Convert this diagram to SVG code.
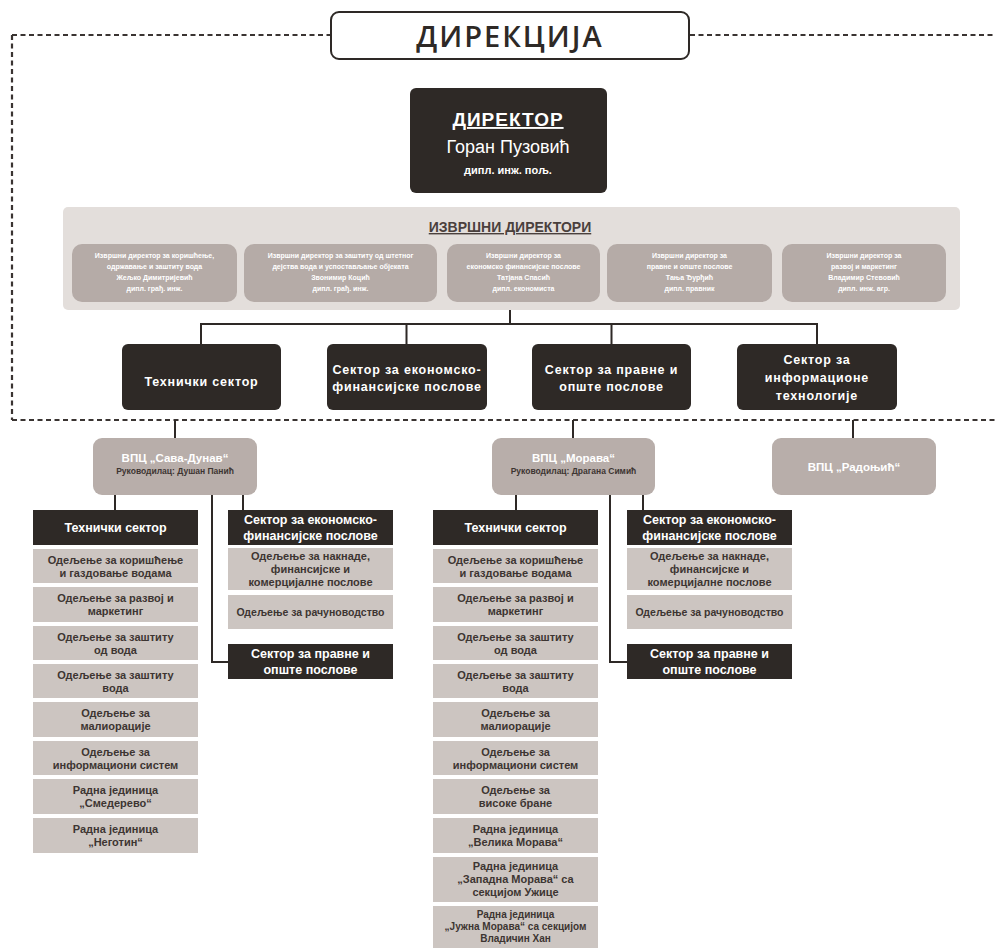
<svg xmlns="http://www.w3.org/2000/svg" width="995" height="951" viewBox="0 0 995 951">
<style>
text{font-family:"Liberation Sans","Open Sans","DejaVu Sans",sans-serif;text-anchor:middle}
.dark{fill:#2e2926}
.panel{fill:#e3dedb}
.sub{fill:#b5aba7}
.vpc{fill:#b8aeaa}
.item{fill:#ccc5c1}
.sect{fill:#fff;font-weight:700;font-size:12.5px;letter-spacing:0.8px}
.hdr{fill:#fff;font-weight:700;font-size:12.5px}
.it{fill:#3d3532;font-weight:700;font-size:11px}
.ex{fill:#fff;font-size:7px;font-weight:700}
.ln{stroke:#2e2926;stroke-width:2;fill:none}
.dash{stroke:#3a3432;stroke-width:2.2;fill:none;stroke-dasharray:5 3.5}
</style>
<rect width="995" height="951" fill="#fff"/>
<g id="frame">
<path class="dash" d="M12,35 H330 M690,35 H995 M12,35 V420 M12,420 H995"/>
</g>
<g id="direkcija">
<rect x="331" y="12" width="358" height="47" rx="8" fill="#fff" stroke="#2e2926" stroke-width="2"/>
<text x="510" y="47" style="font-family:'Open Sans',sans-serif;font-size:29px;font-weight:600;letter-spacing:2px;fill:#2e2926">ДИРЕКЦИЈА</text>
</g>
<g id="direktor">
<rect class="dark" x="410" y="88" width="197" height="105" rx="6"/>
<text x="508" y="126" style="fill:#fff;font-size:19px;font-weight:700;letter-spacing:1px;text-decoration:underline">ДИРЕКТОР</text>
<text x="508" y="153" style="fill:#fff;font-size:18px">Горан Пузовић</text>
<text x="508" y="174" style="fill:#fff;font-size:11px;font-weight:700">дипл. инж. пољ.</text>
</g>
<g id="izvrsni">
<rect class="panel" x="63" y="207" width="897" height="103" rx="5"/>
<text x="510" y="232" style="fill:#4a403d;font-size:14px;font-weight:700;text-decoration:underline">ИЗВРШНИ ДИРЕКТОРИ</text>
<rect class="sub" x="72" y="244" width="165" height="58" rx="10"/>
<text class="ex" x="154.5" y="258">Извршни директор за коришћење,</text>
<text class="ex" x="154.5" y="269">одржавање и заштиту вода</text>
<text class="ex" x="154.5" y="280">Жељко Димитријевић</text>
<text class="ex" x="154.5" y="291">дипл. грађ. инж.</text>
<rect class="sub" x="244" y="244" width="193" height="58" rx="10"/>
<text class="ex" x="340.5" y="258">Извршни директор за заштиту од штетног</text>
<text class="ex" x="340.5" y="269">дејства вода и успостављање објеката</text>
<text class="ex" x="340.5" y="280">Звонимир Коцић</text>
<text class="ex" x="340.5" y="291">дипл. грађ. инж.</text>
<rect class="sub" x="447" y="244" width="153" height="58" rx="10"/>
<text class="ex" x="523.5" y="258">Извршни директор за</text>
<text class="ex" x="523.5" y="269">економско финансијске послове</text>
<text class="ex" x="523.5" y="280">Татјана Спасић</text>
<text class="ex" x="523.5" y="291">дипл. економиста</text>
<rect class="sub" x="607" y="244" width="165" height="58" rx="10"/>
<text class="ex" x="689.5" y="258">Извршни директор за</text>
<text class="ex" x="689.5" y="269">правне и опште послове</text>
<text class="ex" x="689.5" y="280">Тања Ђурђић</text>
<text class="ex" x="689.5" y="291">дипл. правник</text>
<rect class="sub" x="782" y="244" width="164" height="58" rx="10"/>
<text class="ex" x="864" y="258">Извршни директор за</text>
<text class="ex" x="864" y="269">развој и маркетинг</text>
<text class="ex" x="864" y="280">Владимир Стевовић</text>
<text class="ex" x="864" y="291">дипл. инж. агр.</text>
</g>
<g id="connectors">
<path class="ln" d="M510,310 V324 M201,324 H817 M201,323 V344 M406.5,323 V344 M611.5,323 V344 M817,323 V344"/>
<path class="ln" d="M175,420 V438 M573,420 V438 M853,420 V438"/>
<path class="ln" d="M115,495 V510 M243,495 V510 M212,495 V662 H228"/>
<path class="ln" d="M516,495 V510 M643,495 V510 M610,495 V662 H627"/>
</g>
<g id="tehnicki">
<rect class="dark" x="122" y="344" width="159" height="66" rx="6"/>
<text class="sect" x="201.5" y="386">Технички сектор</text>
</g>
<g id="ekonomski">
<rect class="dark" x="327" y="344" width="160" height="66" rx="6"/>
<text class="sect" x="407" y="374">Сектор за економско-</text>
<text class="sect" x="407" y="391">финансијске послове</text>
</g>
<g id="pravni">
<rect class="dark" x="532" y="344" width="159" height="66" rx="6"/>
<text class="sect" x="611.5" y="374">Сектор за правне и</text>
<text class="sect" x="611.5" y="391">опште послове</text>
</g>
<g id="it">
<rect class="dark" x="737" y="344" width="160" height="66" rx="6"/>
<text class="sect" x="817" y="364">Сектор за</text>
<text class="sect" x="817" y="382">информационе</text>
<text class="sect" x="817" y="400">технологије</text>
</g>
<g id="vpc-sava-dunav">
<rect class="vpc" x="93" y="438" width="164" height="57" rx="9"/>
<text x="175" y="462" style="fill:#fff;font-size:11.5px;font-weight:700">ВПЦ „Сава-Дунав“</text>
<text x="175" y="474" style="fill:#3d3532;font-size:8.5px;font-weight:700">Руководилац: Душан Панић</text>
</g>
<g id="vpc-morava">
<rect class="vpc" x="492" y="438" width="163" height="57" rx="9"/>
<text x="573.5" y="462" style="fill:#fff;font-size:11.5px;font-weight:700">ВПЦ „Морава“</text>
<text x="573.5" y="474" style="fill:#3d3532;font-size:8.5px;font-weight:700">Руководилац: Драгана Симић</text>
</g>
<g id="vpc-radojcic">
<rect class="vpc" x="772" y="438" width="164" height="57" rx="9"/>
<text x="854" y="471" style="fill:#fff;font-size:11.5px;font-weight:700">ВПЦ „Радоњић“</text>
</g>
<g id="sd-tehnicki">
<rect class="dark" x="33" y="510" width="165" height="35"/>
<text class="hdr" x="115.5" y="532">Технички сектор</text>
<rect class="item" x="33" y="549" width="165" height="34"/>
<text class="it" x="115.5" y="564">Одељење за коришћење</text>
<text class="it" x="115.5" y="577">и газдовање водама</text>
<rect class="item" x="33" y="587" width="165" height="35"/>
<text class="it" x="115.5" y="602">Одељење за развој и</text>
<text class="it" x="115.5" y="615">маркетинг</text>
<rect class="item" x="33" y="626" width="165" height="34"/>
<text class="it" x="115.5" y="641">Одељење за заштиту</text>
<text class="it" x="115.5" y="654">од вода</text>
<rect class="item" x="33" y="664" width="165" height="34"/>
<text class="it" x="115.5" y="679">Одељење за заштиту</text>
<text class="it" x="115.5" y="692">вода</text>
<rect class="item" x="33" y="702" width="165" height="35"/>
<text class="it" x="115.5" y="717">Одељење за</text>
<text class="it" x="115.5" y="730">малиорације</text>
<rect class="item" x="33" y="741" width="165" height="34"/>
<text class="it" x="115.5" y="756">Одељење за</text>
<text class="it" x="115.5" y="769">информациони систем</text>
<rect class="item" x="33" y="779" width="165" height="35"/>
<text class="it" x="115.5" y="794">Радна јединица</text>
<text class="it" x="115.5" y="807">„Смедерево“</text>
<rect class="item" x="33" y="818" width="165" height="35"/>
<text class="it" x="115.5" y="833">Радна јединица</text>
<text class="it" x="115.5" y="846">„Неготин“</text>
</g>
<g id="sd-ekonomski">
<rect class="dark" x="228" y="510" width="165" height="35"/>
<text class="hdr" x="310.5" y="524">Сектор за економско-</text>
<text class="hdr" x="310.5" y="540">финансијске послове</text>
<rect class="item" x="228" y="548" width="165" height="42"/>
<text class="it" x="310.5" y="560">Одељење за накнаде,</text>
<text class="it" x="310.5" y="573">финансијске и</text>
<text class="it" x="310.5" y="586">комерцијалне послове</text>
<rect class="item" x="228" y="595" width="165" height="34"/>
<text class="it" x="310.5" y="616" style="font-size:10.5px">Одељење за рачуноводство</text>
</g>
<g id="sd-pravni">
<rect class="dark" x="228" y="644" width="165" height="35"/>
<text class="hdr" x="310.5" y="658">Сектор за правне и</text>
<text class="hdr" x="310.5" y="674">опште послове</text>
</g>
<g id="m-tehnicki">
<rect class="dark" x="433" y="510" width="165" height="35"/>
<text class="hdr" x="515.5" y="532">Технички сектор</text>
<rect class="item" x="433" y="549" width="165" height="34"/>
<text class="it" x="515.5" y="564">Одељење за коришћење</text>
<text class="it" x="515.5" y="577">и газдовање водама</text>
<rect class="item" x="433" y="587" width="165" height="35"/>
<text class="it" x="515.5" y="602">Одељење за развој и</text>
<text class="it" x="515.5" y="615">маркетинг</text>
<rect class="item" x="433" y="626" width="165" height="34"/>
<text class="it" x="515.5" y="641">Одељење за заштиту</text>
<text class="it" x="515.5" y="654">од вода</text>
<rect class="item" x="433" y="664" width="165" height="34"/>
<text class="it" x="515.5" y="679">Одељење за заштиту</text>
<text class="it" x="515.5" y="692">вода</text>
<rect class="item" x="433" y="702" width="165" height="35"/>
<text class="it" x="515.5" y="717">Одељење за</text>
<text class="it" x="515.5" y="730">малиорације</text>
<rect class="item" x="433" y="741" width="165" height="34"/>
<text class="it" x="515.5" y="756">Одељење за</text>
<text class="it" x="515.5" y="769">информациони систем</text>
<rect class="item" x="433" y="779" width="165" height="35"/>
<text class="it" x="515.5" y="794">Одељење за</text>
<text class="it" x="515.5" y="807">високе бране</text>
<rect class="item" x="433" y="818" width="165" height="35"/>
<text class="it" x="515.5" y="833">Радна јединица</text>
<text class="it" x="515.5" y="846">„Велика Морава“</text>
<rect class="item" x="433" y="857" width="165" height="45"/>
<text class="it" x="515.5" y="870">Радна јединица</text>
<text class="it" x="515.5" y="883">„Западна Морава“ са</text>
<text class="it" x="515.5" y="896">секцијом Ужице</text>
<rect class="item" x="433" y="906" width="165" height="42"/>
<text class="it" x="515.5" y="918" style="font-size:10px">Радна јединица</text>
<text class="it" x="515.5" y="930" style="font-size:10px">„Јужна Морава“ са секцијом</text>
<text class="it" x="515.5" y="942" style="font-size:10px">Владичин Хан</text>
</g>
<g id="m-ekonomski">
<rect class="dark" x="627" y="510" width="165" height="35"/>
<text class="hdr" x="709.5" y="524">Сектор за економско-</text>
<text class="hdr" x="709.5" y="540">финансијске послове</text>
<rect class="item" x="627" y="548" width="165" height="42"/>
<text class="it" x="709.5" y="560">Одељење за накнаде,</text>
<text class="it" x="709.5" y="573">финансијске и</text>
<text class="it" x="709.5" y="586">комерцијалне послове</text>
<rect class="item" x="627" y="595" width="165" height="34"/>
<text class="it" x="709.5" y="616" style="font-size:10.5px">Одељење за рачуноводство</text>
</g>
<g id="m-pravni">
<rect class="dark" x="627" y="644" width="165" height="35"/>
<text class="hdr" x="709.5" y="658">Сектор за правне и</text>
<text class="hdr" x="709.5" y="674">опште послове</text>
</g>
</svg>
